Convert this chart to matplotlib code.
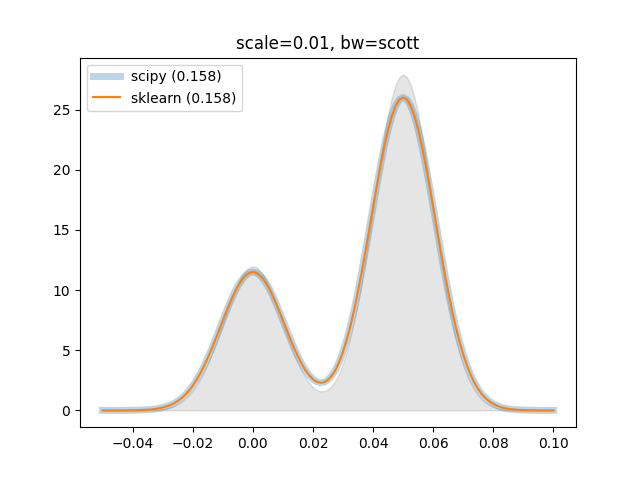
import numpy as np
import matplotlib
matplotlib.use("Agg")
import matplotlib.pyplot as plt

# x grid the curves were read at (-0.05 .. 0.10, step 0.00125)
x = np.linspace(-0.05, 0.10, 121)

# true density (grey fill)
true_dens = [0.0, 0.0, 0.0, 0.0, 0.0, 0.0, 0.0, 0.0, 0.0, 0.01,
             0.01, 0.02, 0.03, 0.04, 0.06, 0.09, 0.13, 0.19, 0.27, 0.38,
             0.53, 0.71, 0.95, 1.25, 1.62, 2.06, 2.59, 3.20, 3.89, 4.65,
             5.48, 6.36, 7.26, 8.16, 9.04, 9.85, 10.56, 11.16, 11.60, 11.88,
             11.97, 11.88, 11.60, 11.16, 10.56, 9.85, 9.04, 8.16, 7.27, 6.38,
             5.50, 4.69, 3.95, 3.29, 2.73, 2.27, 1.93, 1.70, 1.59, 1.60,
             1.76, 2.04, 2.49, 3.11, 3.91, 4.90, 6.10, 7.50, 9.09, 10.87,
             12.79, 14.84, 16.93, 19.04, 21.08, 22.97, 24.64, 26.02, 27.06, 27.70,
             27.92, 27.70, 27.06, 26.02, 24.64, 22.97, 21.08, 19.04, 16.93, 14.83,
             12.78, 10.85, 9.06, 7.46, 6.04, 4.81, 3.78, 2.92, 2.22, 1.66,
             1.23, 0.89, 0.64, 0.45, 0.31, 0.21, 0.14, 0.09, 0.06, 0.04,
             0.02, 0.02, 0.01, 0.0, 0.0, 0.0, 0.0, 0.0, 0.0, 0.0,
             0.0]

# scipy gaussian_kde estimate (thick blue band)
kde_scipy = [0.0, 0.0, 0.0, 0.0, 0.0, 0.0, 0.0, 0.01, 0.01, 0.02,
             0.03, 0.04, 0.06, 0.08, 0.12, 0.17, 0.24, 0.33, 0.44, 0.59,
             0.78, 1.01, 1.30, 1.64, 2.05, 2.53, 3.07, 3.68, 4.36, 5.09,
             5.86, 6.66, 7.47, 8.27, 9.02, 9.72, 10.33, 10.82, 11.19, 11.42,
             11.50, 11.42, 11.19, 10.82, 10.33, 9.73, 9.03, 8.29, 7.50, 6.70,
             5.92, 5.18, 4.49, 3.87, 3.34, 2.92, 2.59, 2.38, 2.30, 2.34,
             2.54, 2.88, 3.37, 4.04, 4.88, 5.88, 7.06, 8.41, 9.92, 11.55,
             13.29, 15.09, 16.91, 18.70, 20.40, 21.97, 23.34, 24.47, 25.31, 25.83,
             26.00, 25.83, 25.31, 24.47, 23.34, 21.97, 20.40, 18.69, 16.90, 15.07,
             13.26, 11.51, 9.86, 8.33, 6.94, 5.71, 4.64, 3.71, 2.93, 2.29,
             1.76, 1.33, 1.00, 0.74, 0.54, 0.39, 0.27, 0.19, 0.13, 0.09,
             0.06, 0.04, 0.03, 0.02, 0.01, 0.01, 0.0, 0.0, 0.0, 0.0,
             0.0]

# sklearn KernelDensity estimate: reads the same as scipy on the picture
kde_sklearn = list(kde_scipy)

fig, ax = plt.subplots(figsize=(6.4, 4.8), dpi=100)
ax.fill_between(x, true_dens, color='black', alpha=0.1)
ax.plot(x, kde_scipy, color='C0', lw=5, alpha=0.3, label='scipy (0.158)')
ax.plot(x, kde_sklearn, color='C1', lw=1.5, label='sklearn (0.158)')
ax.set_title('scale=0.01, bw=scott')
ax.legend(loc='upper left')
fig.savefig('out.png')
